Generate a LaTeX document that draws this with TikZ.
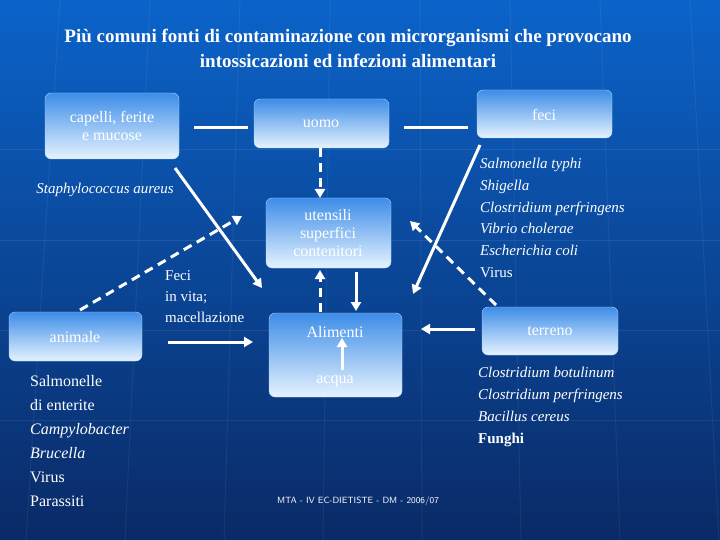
\documentclass[tikz,border=0pt]{standalone}
\usepackage{fontspec}
\setmainfont{Liberation Serif}
\usetikzlibrary{arrows.meta}
\definecolor{bgtop}{HTML}{0B63C9}
\definecolor{bgbot}{HTML}{0A2A66}
\definecolor{boxtop}{HTML}{3D8DE8}
\definecolor{boxbot}{HTML}{E6F3FF}
\tikzset{
  box/.style={rounded corners=6pt, top color=boxtop, bottom color=boxbot, draw=boxbot!70!boxtop, line width=0.4pt},
  lab/.style={text=white, font=\fontsize{16}{18}\selectfont, align=center},
  con/.style={draw=white, line width=3pt},
  arr/.style={con, -{Triangle[length=9pt,width=10pt]}},
  darr/.style={arr, dash pattern=on 9pt off 6pt},
  it/.style={text=white, font=\fontsize{15}{21.7}\selectfont\itshape, align=left, anchor=north west, inner sep=0pt},
}
\begin{document}
\begin{tikzpicture}[x=1pt,y=-1pt]
\useasboundingbox (0,0) rectangle (720,540);
\shade[top color=bgtop, bottom color=bgbot] (0,0) rectangle (720,540);
\foreach \y in {150,240,330,420}{\draw[white,opacity=0.08,line width=1pt] (0,\y) -- (720,\y);}
\foreach \x in {60,150,240,330,420,510,600,690}{\draw[white,opacity=0.06,line width=1pt] (\x,0) -- (\x-40+\x/10,540);}
% title
\node[text=white, font=\bfseries\fontsize{19}{25}\selectfont, align=center] (title) at (348,48) {Più comuni fonti di contaminazione con microrganismi che provocano\\intossicazioni ed infezioni alimentari};
% boxes
\path[box] (45,93) rectangle (179,159); \node[lab] (cap) at (112,126) {capelli, ferite\\e mucose};
\path[box] (254,99) rectangle (389,148); \node[lab] (uomo) at (321,124) {uomo};
\path[box] (477,90) rectangle (612,138); \node[lab] (feci) at (544,115) {feci};
\path[box] (266,198) rectangle (391,268); \node[lab] (ute) at (328,233) {utensili\\superfici\\contenitori};
\path[box] (269,313) rectangle (402,397); \node[lab] (ali) at (335,332) {Alimenti};
\node[lab] (acq) at (335,381) {acqua};
\path[box] (482,307) rectangle (618,355); \node[lab] (ter) at (550,331) {terreno};
\path[box] (9,312) rectangle (142,361); \node[lab] (ani) at (75,337) {animale};
% coordinates
\coordinate (c1) at (194,128); \coordinate (c2) at (248,128);
\coordinate (c3) at (404,128); \coordinate (c4) at (468,128);
\draw[con] (c1) -- (c2);
\draw[con] (c3) -- (c4);
\coordinate (u1) at (320,148); \coordinate (u2) at (320,198);
\draw[darr] (u1) -- (u2);
\coordinate (k1) at (175,168); \coordinate (k2) at (262,288);
\draw[arr] (k1) -- (k2);
\coordinate (f1) at (480,145); \coordinate (f2) at (413,294);
\draw[arr] (f1) -- (f2);
\coordinate (a1) at (80,310); \coordinate (a2) at (242,216);
\draw[darr] (a1) -- (a2);
\coordinate (t1) at (496,305); \coordinate (t2) at (410,221);
\draw[darr] (t1) -- (t2);
\coordinate (l1) at (320,312); \coordinate (l2) at (320,270);
\draw[darr] (l1) -- (l2);
\coordinate (s1) at (356,272); \coordinate (s2) at (356,311);
\draw[arr] (s1) -- (s2);
\coordinate (r1) at (475,329); \coordinate (r2) at (421,329);
\draw[arr] (r1) -- (r2);
\coordinate (n1) at (168,342); \coordinate (n2) at (253,342);
\draw[arr] (n1) -- (n2);
\coordinate (w1) at (342,370); \coordinate (w2) at (342,338);
\draw[arr] (w1) -- (w2);
% texts
\node[text=white, font=\fontsize{15}{18}\selectfont\itshape] (sta) at (105,190) {Staphylococcus aureus};
\node[text=white, font=\fontsize{15}{21}\selectfont, align=left, anchor=north west, inner sep=0pt] (fv) at (165,270) {Feci\\in vita;\\macellazione};
\node[it] (sal) at (480,158) {Salmonella typhi\\Shigella\\Clostridium perfringens\\Vibrio cholerae\\Escherichia coli\\\upshape Virus};
\node[it, font=\fontsize{16}{24}\selectfont] (ani2) at (30,375) {Salmonelle\\di enterite\\\itshape Campylobacter\\\itshape Brucella\\Virus\\Parassiti};
\node[it, font=\fontsize{15}{22}\selectfont\itshape] (clo) at (478,367) {Clostridium botulinum\\Clostridium perfringens\\Bacillus cereus\\\upshape\bfseries Funghi};
\node[text=white, font=\sffamily\fontsize{9}{10}\selectfont] (foot) at (358,501) {MTA - IV EC-DIETISTE - DM - 2006/07};
\end{tikzpicture}
\end{document}
